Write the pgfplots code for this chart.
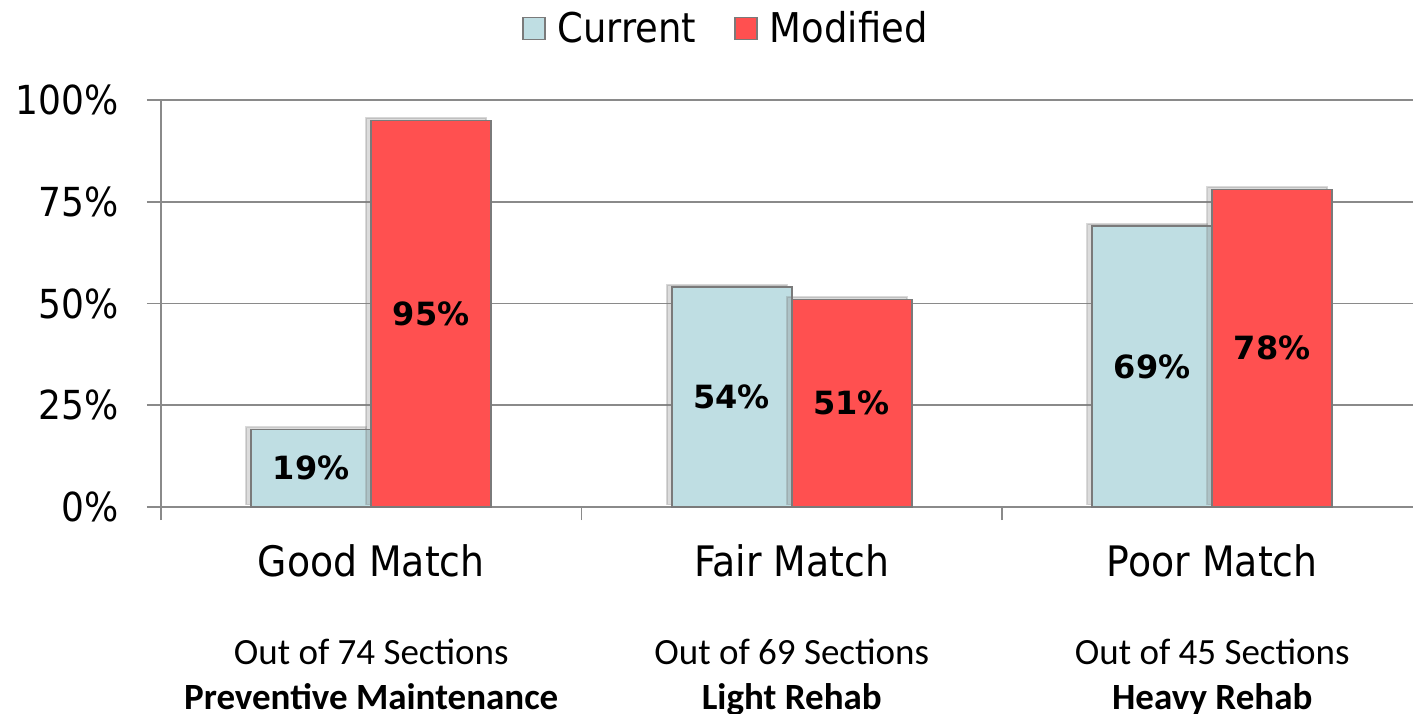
\documentclass[border=0pt]{standalone}
\usepackage{fontspec}
\setmainfont{DejaVu Sans}[FakeStretch=0.9]
\newfontfamily\carlito{Carlito}
\newfontfamily\dvs{DejaVu Sans}
\usepackage{pgfplots}
\pgfplotsset{compat=1.18}
\usetikzlibrary{shadows}
\definecolor{cblue}{HTML}{BFDEE3}
\definecolor{cred}{HTML}{FF5050}
\definecolor{bordergray}{HTML}{7A7A7A}
\definecolor{gridgray}{HTML}{8A8A8A}
\begin{document}
\begin{tikzpicture}
\useasboundingbox (-80.5pt,-103pt) rectangle (626.5pt,253.5pt);
\begin{axis}[
  at={(0,0)}, anchor=south west,
  x=210.25pt, y=2.035pt,
  xmin=-0.5, xmax=2.477, ymin=0, ymax=100,
  /pgf/number format/assume math mode=true,
  axis x line*=bottom, axis y line*=left,
  axis line style={gridgray, line width=0.8pt, -},
  tick align=outside,
  major tick length=7pt, minor tick length=6.5pt,
  tick style={draw=gridgray, line width=0.8pt},
  major x tick style={draw=none},
  ymajorgrids, major grid style={gridgray, line width=0.8pt},
  ytick={0,25,50,75,100},
  yticklabels={0\%,25\%,50\%,75\%,100\%},
  yticklabel style={font=\fontsize{20}{24}\selectfont, inner sep=0pt, xshift=-14pt},
  xtick={0,1,2},
  minor xtick={-0.5,0.5,1.5},
  xticklabels={Good Match, Fair Match, Poor Match},
  xticklabel style={font=\fontsize{21}{25}\selectfont, anchor=north, inner sep=0pt, yshift=-11.5pt},
  extra x ticks={0,1,2},
  extra x tick labels={{Out of 74 Sections\\\textbf{Preventive Maintenance}},{Out of 69 Sections\\\textbf{Light Rehab}},{Out of 45 Sections\\\textbf{Heavy Rehab}}},
  extra x tick style={tick style={draw=none}, xticklabel style={font=\carlito\fontsize{18.5}{22.5}\selectfont, align=center, yshift=-47.5pt}},
  ybar, bar width=60pt,
  legend style={at={(axis description cs:0.452,1.176)}, anchor=center, draw=none, fill=none,
    font=\fontsize{20.5}{24}\selectfont, legend columns=-1,
    /tikz/every odd column/.append style={column sep=4pt},
    /tikz/every even column/.append style={column sep=17pt}},
  legend image code/.code={\draw[#1, line width=0.8pt] (0pt,-5.5pt) rectangle (11pt,5.5pt);},
  nodes near coords={\pgfmathprintnumber{\pgfplotspointmeta}\%},
  visualization depends on={rawy \as \rawy},
  every node near coord/.append style={anchor=center, yshift=-\rawy*1.0175pt, font=\dvs\bfseries\fontsize{16}{19}\selectfont, text=black},
]
\addlegendimage{fill=cblue, draw=bordergray}
\addlegendentry{Current}
\addlegendimage{fill=cred, draw=bordergray}
\addlegendentry{Modified}
\addplot[fill=cblue, draw=bordergray, line width=0.8pt, bar shift=-30pt,
  drop shadow={shadow xshift=-2.5pt, shadow yshift=1.2pt, opacity=0.28}]
  coordinates {(0,19) (1,54) (2,69)};
\addplot[fill=cred, draw=bordergray, line width=0.8pt, bar shift=30pt,
  drop shadow={shadow xshift=-2.5pt, shadow yshift=1.2pt, opacity=0.28}]
  coordinates {(0,95) (1,51) (2,78)};
\end{axis}
\end{tikzpicture}
\end{document}
